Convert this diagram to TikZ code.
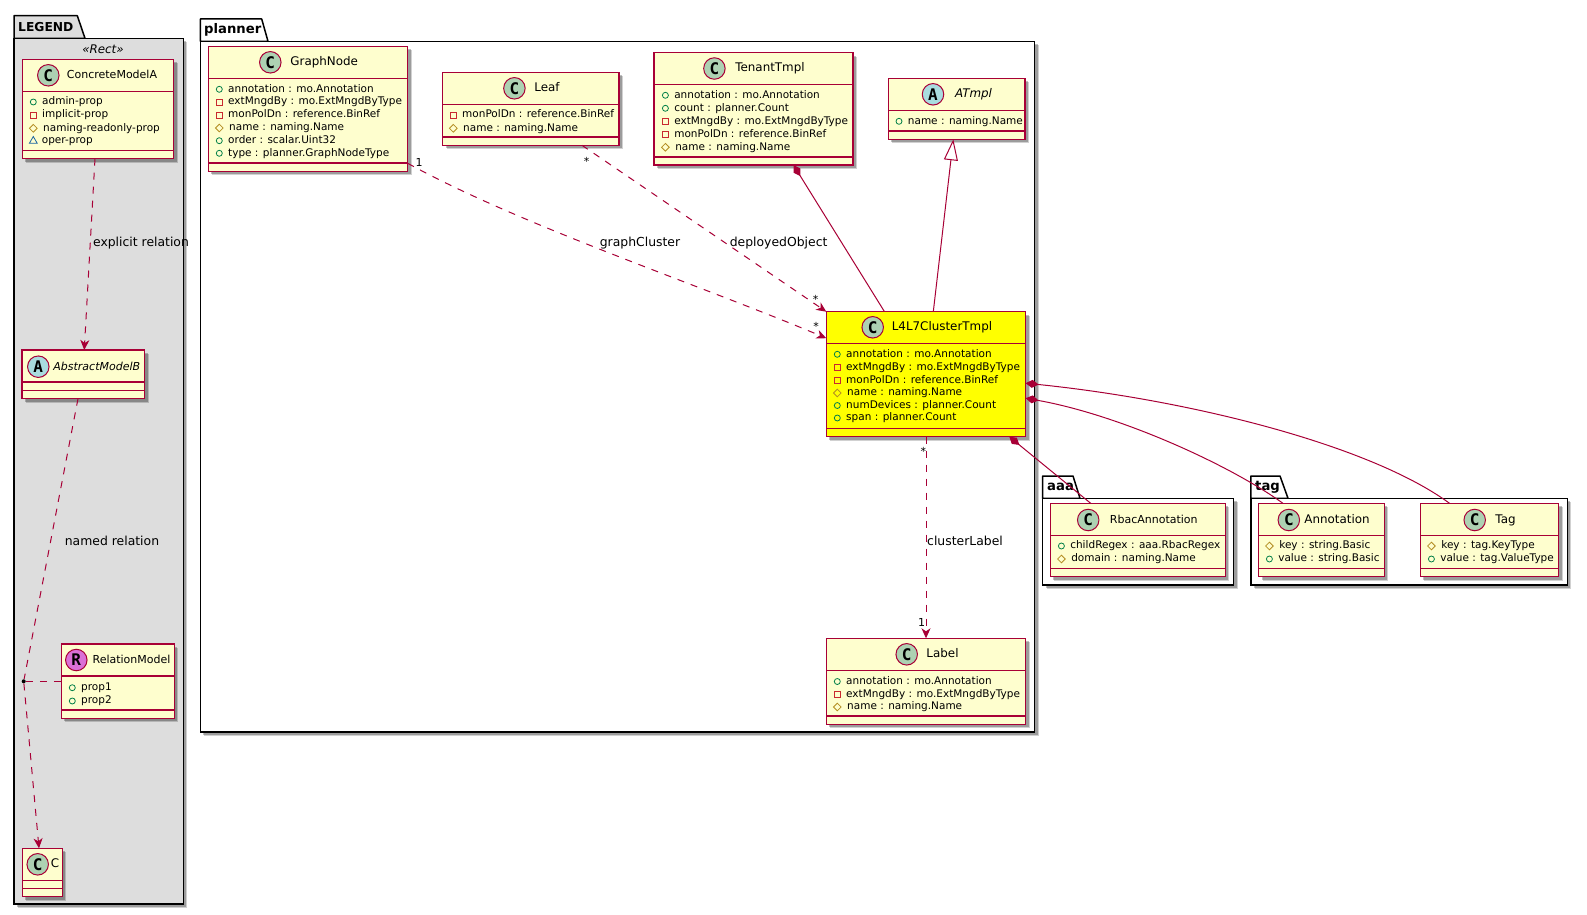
\documentclass[tikz,border=0pt]{standalone}
\usepackage{fontspec}
\setmainfont{DejaVu Sans}
\newfontfamily\spotfont{DejaVu Sans Mono}
\usepackage{tikz}
\usetikzlibrary{arrows.meta,shadows,shapes.geometric}
\definecolor{umlred}{HTML}{A80036}
\definecolor{umlfill}{HTML}{FEFECE}
\definecolor{umlyellow}{HTML}{FFFF00}
\definecolor{legendgray}{HTML}{DDDDDD}
\definecolor{spotc}{HTML}{ADD1B2}
\definecolor{spota}{HTML}{A9DCDF}
\definecolor{spotr}{HTML}{DA70D6}
\definecolor{pubc}{HTML}{038048}
\definecolor{privc}{HTML}{C82930}
\definecolor{protc}{HTML}{B38D22}
\definecolor{pkgc}{HTML}{1963A0}
\tikzset{
  softshadow/.style={drop shadow={shadow xshift=4pt,shadow yshift=-4pt,fill=black,opacity=.18},drop shadow={shadow xshift=3pt,shadow yshift=-3pt,fill=black,opacity=.25}},
  pkg/.style={draw=black,line width=1.5pt,fill=white,inner sep=0pt,outer sep=0pt,softshadow},
  pkgtab/.style={draw=black,line width=1.5pt,fill=white,line join=round},
  pkgname/.style={inner sep=0pt,font=\bfseries\fontsize{13.2}{16}\selectfont},
  cls/.style={draw=umlred,line width=1.5pt,fill=umlfill,inner sep=0pt,outer sep=0pt,softshadow,
    path picture={
      \draw[umlred,line width=1.5pt] ([yshift=-32pt]path picture bounding box.north west) -- ([yshift=-32pt]path picture bounding box.north east);
      \draw[umlred,line width=1.5pt] ([yshift=8.2pt]path picture bounding box.south west) -- ([yshift=8.2pt]path picture bounding box.south east);
    }},
  spot/.style={circle,draw=umlred,line width=1pt,minimum size=21.5pt,inner sep=0pt,font=\spotfont\bfseries\fontsize{16}{16}\selectfont},
  clsname/.style={inner sep=0pt,text height=9.5pt,text depth=2.5pt,font=\fontsize{11.9}{14}\selectfont},
  narrowname/.style={clsname,font=\fontsize{11}{14}\selectfont},
  mem/.style={inner sep=0pt,anchor=west,xshift=5.3pt,text height=7.5pt,text depth=2pt,font=\fontsize{10.5}{12}\selectfont},
  pub/.style={circle,draw=pubc,line width=.8pt,inner sep=0pt,minimum size=6pt,label distance=7pt},
  priv/.style={rectangle,draw=privc,line width=.8pt,inner sep=0pt,minimum size=6pt,label distance=7pt},
  prot/.style={diamond,draw=protc,line width=.8pt,inner sep=0pt,minimum size=8pt,label distance=6pt},
  pack/.style={regular polygon,regular polygon sides=3,draw=pkgc,line width=.8pt,inner sep=0pt,minimum size=9pt,label distance=7pt},
  dep/.style={draw=umlred,line width=1pt,dash pattern=on 7pt off 7pt},
  assoc/.style={draw=umlred,line width=1pt},
  toopen/.style={-{Stealth[inset=3pt,length=10pt,width=9pt]}},
  fromcomp/.style={{Diamond[length=13pt,width=8pt]}-},
  fromext/.style={{Triangle[open,length=21pt,width=14pt,fill=white]}-},
  rellabel/.style={inner sep=0pt,font=\fontsize{12.4}{14}\selectfont},
  mult/.style={inner sep=0pt,font=\fontsize{11}{13}\selectfont},
}
\begin{document}
\begin{tikzpicture}[x=1pt,y=-1pt]
  \useasboundingbox (0,0) rectangle (1587,915);
  % packages
  \filldraw[pkgtab,fill=legendgray] (14,38.3) -- (14,15.7) -- (77.3,15.7) -- (85,38.3) -- cycle;
  \node[pkg,fill=legendgray,minimum width=169.3pt,minimum height=865.7pt] (legend) at (98.65,471.15) {};
  \node[pkgname,font=\bfseries\fontsize{12.3}{16}\selectfont,anchor=west] (legendname) at (18,26.7) {LEGEND};
  \node[inner sep=0pt,font=\itshape\fontsize{11.9}{14}\selectfont] (legendstereo) at (103,49.7) {«Rect»};
  \filldraw[pkgtab] (200.3,41.3) -- (200.3,19) -- (261.7,19) -- (268,41.3) -- cycle;
  \node[pkg,minimum width=834.2pt,minimum height=690.7pt] (planner) at (617.4,386.65) {};
  \node[pkgname,anchor=west] (plannername) at (204,30) {planner};
  \filldraw[pkgtab] (1042.5,498.3) -- (1042.5,476) -- (1073,476) -- (1080,498.3) -- cycle;
  \node[pkg,minimum width=191.1pt,minimum height=86.7pt] (aaa) at (1138.05,541.65) {};
  \node[pkgname,anchor=west] (aaaname) at (1047,487) {aaa};
  \filldraw[pkgtab] (1250.9,498.3) -- (1250.9,476) -- (1280,476) -- (1288,498.3) -- cycle;
  \node[pkg,minimum width=316.4pt,minimum height=86.7pt] (tag) at (1409.1,541.65) {};
  \node[pkgname,anchor=west] (tagname) at (1255,487) {tag};
  % legend classes
  \node[cls,minimum width=151.4pt,minimum height=99.4pt] (concrete) at (98,109) {};
  \node[spot,fill=spotc] (concretespot) at (48.3,75.3) {C};
  \node[narrowname] (concretename) at (112,75.3) {ConcreteModelA};
  \node[pub,label={[mem]right:{admin-prop}}] (concrete1) at (33.3,102) {};
  \node[priv,label={[mem]right:{implicit-prop}}] (concrete2) at (33.3,115) {};
  \node[prot,label={[mem]right:{naming-readonly-prop}}] (concrete3) at (33.3,128.3) {};
  \node[pack,label={[mem]right:{oper-prop}}] (concrete4) at (33.3,141) {};
  \node[cls,minimum width=122.5pt,minimum height=48.7pt] (abstract) at (83.25,374.35) {};
  \node[spot,fill=spota] (abstractspot) at (38.3,366.7) {A};
  \node[narrowname,font=\itshape\fontsize{11}{14}\selectfont] (abstractname) at (96.8,366.7) {AbstractModelB};
  \node[cls,minimum width=113pt,minimum height=74.3pt] (relation) at (117.8,681.15) {};
  \node[spot,fill=spotr] (relationspot) at (76.3,660) {R};
  \node[narrowname] (relationname) at (131.5,660) {RelationModel};
  \node[pub,label={[mem]right:{prop1}}] (relation1) at (72.3,687.7) {};
  \node[pub,label={[mem]right:{prop2}}] (relation2) at (72.3,701) {};
  \node[cls,minimum width=40pt,minimum height=48.4pt] (c) at (42.3,872.5) {};
  \node[spot,fill=spotc] (cspot) at (37.7,864.3) {C};
  \node[clsname] (cname) at (55,864.3) {C};
  \node[circle,fill=black,inner sep=0pt,minimum size=4pt] (assocdot) at (23.7,681.3) {};
  % planner classes
  \node[cls,minimum width=199.4pt,minimum height=125pt] (graphnode) at (308,108.8) {};
  \node[spot,fill=spotc] (graphnodespot) at (270.3,62.3) {C};
  \node[clsname] (graphnodename) at (324.2,62.3) {GraphNode};
  \node[pub,label={[mem]right:{annotation : mo.Annotation}}] (graphnode1) at (219.3,89.3) {};
  \node[priv,label={[mem]right:{extMngdBy : mo.ExtMngdByType}}] (graphnode2) at (219.3,102) {};
  \node[priv,label={[mem]right:{monPolDn : reference.BinRef}}] (graphnode3) at (219.3,115) {};
  \node[prot,label={[mem]right:{name : naming.Name}}] (graphnode4) at (219.3,128) {};
  \node[pub,label={[mem]right:{order : scalar.Uint32}}] (graphnode5) at (219.3,140.7) {};
  \node[pub,label={[mem]right:{type : planner.GraphNodeType}}] (graphnode6) at (219.3,153.3) {};
  \node[cls,minimum width=176.5pt,minimum height=73pt] (leaf) at (530.75,108.8) {};
  \node[spot,fill=spotc] (leafspot) at (514.4,88.3) {C};
  \node[clsname] (leafname) at (547,88.3) {Leaf};
  \node[priv,label={[mem]right:{monPolDn : reference.BinRef}}] (leaf1) at (453.3,115) {};
  \node[prot,label={[mem]right:{name : naming.Name}}] (leaf2) at (453.3,128.3) {};
  \node[cls,minimum width=199pt,minimum height=112.5pt] (tenant) at (753.5,108.8) {};
  \node[spot,fill=spotc] (tenantspot) at (714.4,68.5) {C};
  \node[clsname] (tenantname) at (770,68.5) {TenantTmpl};
  \node[pub,label={[mem]right:{annotation : mo.Annotation}}] (tenant1) at (665.4,95.3) {};
  \node[pub,label={[mem]right:{count : planner.Count}}] (tenant2) at (665.4,108.3) {};
  \node[priv,label={[mem]right:{extMngdBy : mo.ExtMngdByType}}] (tenant3) at (665.4,121.3) {};
  \node[priv,label={[mem]right:{monPolDn : reference.BinRef}}] (tenant4) at (665.4,134.3) {};
  \node[prot,label={[mem]right:{name : naming.Name}}] (tenant5) at (665.4,147.3) {};
  \node[cls,minimum width=136.7pt,minimum height=61pt] (atmpl) at (956.65,108.8) {};
  \node[spot,fill=spota] (atmplspot) at (933,94.3) {A};
  \node[clsname,font=\itshape\fontsize{11.9}{14}\selectfont] (atmplname) at (973.5,94.3) {ATmpl};
  \node[pub,label={[mem]right:{name : naming.Name}}] (atmpl1) at (899,121.3) {};
  \node[cls,fill=umlyellow,minimum width=199.4pt,minimum height=125pt] (l4l7) at (926,374.2) {};
  \node[spot,fill=spotc] (l4l7spot) at (872.7,327.3) {C};
  \node[clsname] (l4l7name) at (942,327.3) {L4L7ClusterTmpl};
  \node[pub,label={[mem]right:{annotation : mo.Annotation}}] (l4l71) at (837.3,354.3) {};
  \node[priv,label={[mem]right:{extMngdBy : mo.ExtMngdByType}}] (l4l72) at (837.3,367.3) {};
  \node[priv,label={[mem]right:{monPolDn : reference.BinRef}}] (l4l73) at (837.3,380.3) {};
  \node[prot,label={[mem]right:{name : naming.Name}}] (l4l74) at (837.3,393) {};
  \node[pub,label={[mem]right:{numDevices : planner.Count}}] (l4l75) at (837.3,405.5) {};
  \node[pub,label={[mem]right:{span : planner.Count}}] (l4l76) at (837.3,418) {};
  \node[cls,minimum width=199.4pt,minimum height=86pt] (label) at (926,681.3) {};
  \node[spot,fill=spotc] (labelspot) at (906.7,654.3) {C};
  \node[clsname] (labelname) at (942.5,654.3) {Label};
  \node[pub,label={[mem]right:{annotation : mo.Annotation}}] (label1) at (837.3,681.5) {};
  \node[priv,label={[mem]right:{extMngdBy : mo.ExtMngdByType}}] (label2) at (837.3,694.5) {};
  \node[prot,label={[mem]right:{name : naming.Name}}] (label3) at (837.3,707) {};
  % aaa and tag classes
  \node[cls,minimum width=175pt,minimum height=73.4pt] (rbac) at (1137.9,540) {};
  \node[spot,fill=spotc] (rbacspot) at (1088.2,520) {C};
  \node[narrowname] (rbacname) at (1153.8,520) {RbacAnnotation};
  \node[pub,label={[mem]right:{childRegex : aaa.RbacRegex}}] (rbac1) at (1061.4,546) {};
  \node[prot,label={[mem]right:{domain : naming.Name}}] (rbac2) at (1061.4,559) {};
  \node[cls,minimum width=125.7pt,minimum height=73.4pt] (annot) at (1321.5,540) {};
  \node[spot,fill=spotc] (annotspot) at (1288.8,520) {C};
  \node[clsname] (annotname) at (1337,520) {Annotation};
  \node[prot,label={[mem]right:{key : string.Basic}}] (annot1) at (1269.4,546) {};
  \node[pub,label={[mem]right:{value : string.Basic}}] (annot2) at (1269.4,559) {};
  \node[cls,minimum width=138.1pt,minimum height=73.4pt] (tagcls) at (1489.5,540) {};
  \node[spot,fill=spotc] (tagspot) at (1474.7,520) {C};
  \node[clsname] (tagclsname) at (1505.5,520) {Tag};
  \node[prot,label={[mem]right:{key : tag.KeyType}}] (tagcls1) at (1431.4,546) {};
  \node[pub,label={[mem]right:{value : tag.ValueType}}] (tagcls2) at (1431.4,559) {};
  % connectors
  \draw[dep,toopen] ([xshift=-3pt]concrete.south) -- ([xshift=1pt]abstract.north);
  \draw[dep] ([xshift=-5.25pt]abstract.south) -- (assocdot);
  \draw[dep,toopen] (assocdot) -- ([xshift=-3.3pt]c.north);
  \draw[dep] (assocdot) -- (relation.west |- assocdot);
  \draw[dep,toopen] ([yshift=8pt]graphnode.south east) .. controls (520,225) and (700,285) .. ([yshift=36pt]l4l7.west);
  \draw[dep,toopen] ([xshift=51.25pt]leaf.south) -- (l4l7.north west);
  \draw[dep,toopen] (l4l7.south) -- (label.north);
  \draw[assoc,fromcomp] ([xshift=40pt]tenant.south) -- ([xshift=-41.5pt]l4l7.north);
  \draw[assoc,fromext] ([xshift=-3.35pt]atmpl.south) -- ([xshift=7.3pt]l4l7.north);
  \draw[assoc,fromcomp] ([xshift=83.3pt]l4l7.south) -- ([xshift=-47.2pt]rbac.north);
  \draw[assoc,fromcomp] ([yshift=-24pt]l4l7.east) .. controls (1120,415) and (1230,465) .. ([xshift=-38.6pt]annot.north);
  \draw[assoc,fromcomp] ([yshift=-9pt]l4l7.east) .. controls (1190,400) and (1370,445) .. ([xshift=-40pt]tagcls.north);
  % connector labels
  \node[rellabel] (lblexplicit) at (141,243) {explicit relation};
  \node[rellabel] (lblnamed) at (112,540.5) {named relation};
  \node[rellabel] (lblgraph) at (640,243) {graphCluster};
  \node[rellabel] (lbldeployed) at (778.6,243) {deployedObject};
  \node[rellabel] (lblcluster) at (965,540.5) {clusterLabel};
  \node[mult] (multgraph) at (419,162) {1};
  \node[mult] (multleaf) at (586.7,161.5) {*};
  \node[mult] (multdeployed) at (815.5,299) {*};
  \node[mult] (multcluster) at (816,326) {*};
  \node[mult] (multlabela) at (923.3,451.5) {*};
  \node[mult] (multlabelb) at (921.7,622.3) {1};
\end{tikzpicture}
\end{document}
